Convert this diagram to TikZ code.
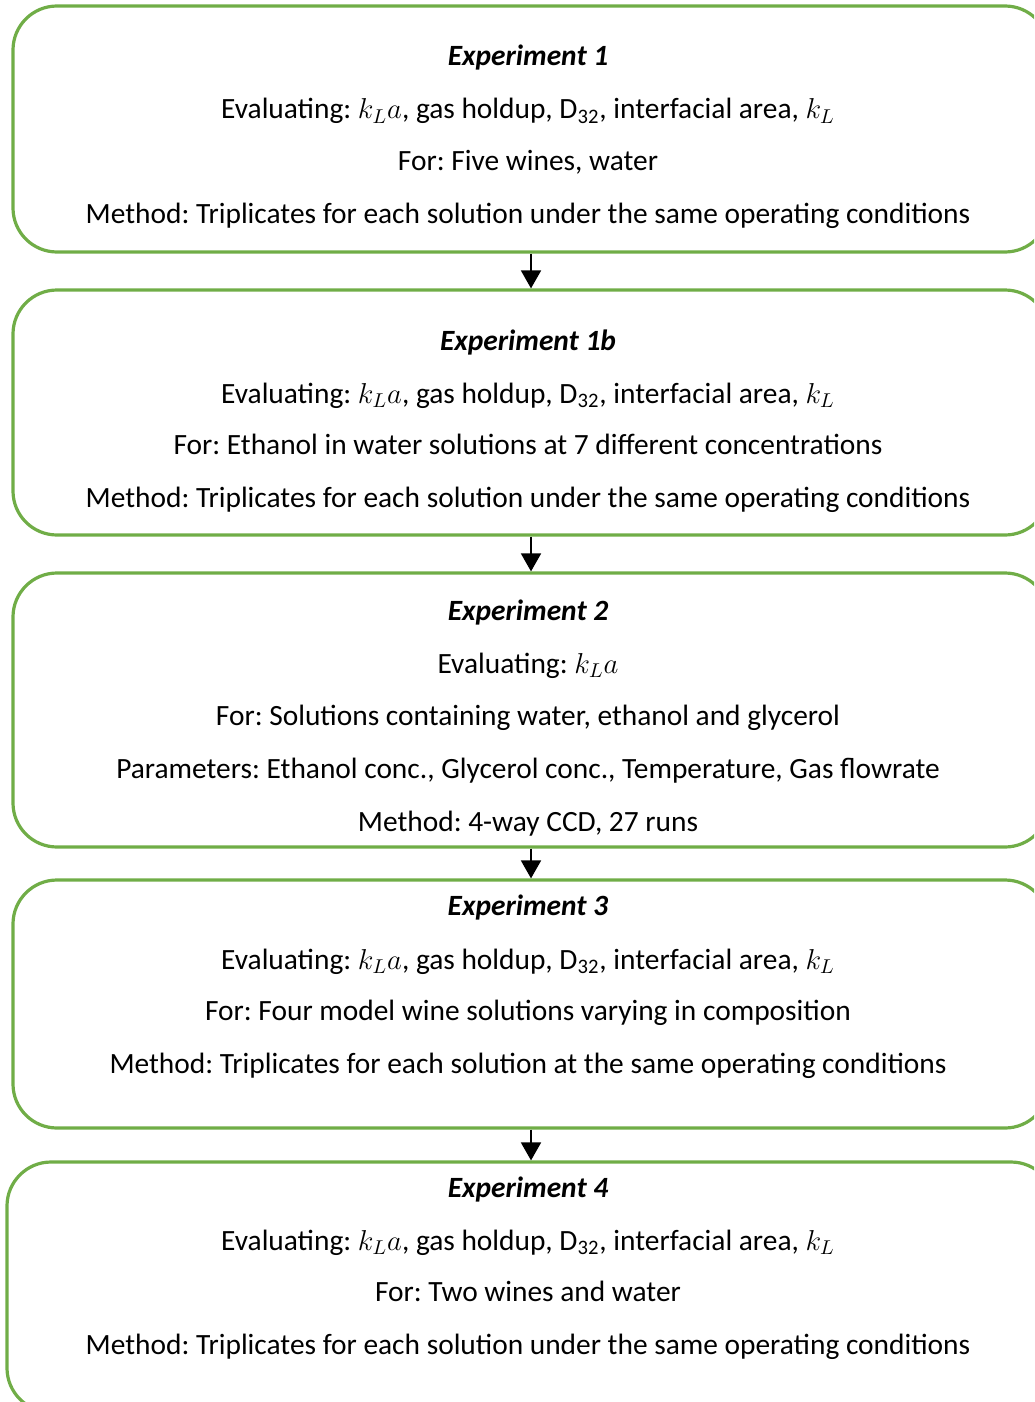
\documentclass[tikz,border=0pt]{standalone}
\usepackage{fontspec}
\setmainfont{Carlito}
\usetikzlibrary{arrows.meta}
\definecolor{expgreen}{RGB}{112,173,71}
\tikzset{
  expbox/.style={draw=expgreen, line width=1.6pt, rounded corners=22pt, inner sep=0pt},
  txt/.style={inner sep=0pt, anchor=base},
  flow/.style={-{Triangle[width=10pt,length=9pt]}, line width=0.9pt},
}
\newcommand\kla{$k_L a$}
\newcommand\evalall{Evaluating: $k_L a$, gas holdup, D\textsubscript{32}, interfacial area, $k_L$}

\begin{document}
\begin{tikzpicture}[x=0.5pt,y=-0.5pt]
    \fontsize{14.7}{17}\selectfont\frenchspacing
    \useasboundingbox (0,0) rectangle (1034,1402);
    \clip (0,0) rectangle (1034,1402);
    % boxes
    \node[expbox, minimum width=518pt, minimum height=123pt] (b1) at (531,129) {};
    \node[expbox, minimum width=518pt, minimum height=122.5pt] (b2) at (531,412.5) {};
    \node[expbox, minimum width=518pt, minimum height=137pt] (b3) at (531,710) {};
    \node[expbox, minimum width=518pt, minimum height=124pt] (b4) at (531,1004) {};
    \node[expbox, minimum width=524pt, minimum height=125pt] (b5) at (531,1287) {};
    % arrows
    \draw[flow] (b1.south) -- (b2.north);
    \draw[flow] (b2.south) -- (b3.north);
    \draw[flow] (b3.south) -- (b4.north);
    \draw[flow] (b4.south) -- (b5.north);
    % experiment 1
    \node[txt] (e1t) at (528,66) {\textbf{\textit{Experiment 1}}};
    \node[txt] (e1e) at (528,119) {\evalall};
    \node[txt] (e1f) at (528,170) {For: Five wines, water};
    \node[txt] (e1m) at (528,223) {Method: Triplicates for each solution under the same operating conditions};
    % experiment 1b
    \node[txt] (e2t) at (528,350) {\textbf{\textit{Experiment 1b}}};
    \node[txt] (e2e) at (528,403) {\evalall};
    \node[txt] (e2f) at (528,454) {For: Ethanol in water solutions at 7 different concentrations};
    \node[txt] (e2m) at (528,507) {Method: Triplicates for each solution under the same operating conditions};
    % experiment 2
    \node[txt] (e3t) at (528,620) {\textbf{\textit{Experiment 2}}};
    \node[txt] (e3e) at (528,673) {Evaluating: \kla};
    \node[txt] (e3f) at (528,725) {For: Solutions containing water, ethanol and glycerol};
    \node[txt] (e3p) at (528,778) {Parameters: Ethanol conc., Glycerol conc., Temperature, Gas flowrate};
    \node[txt] (e3m) at (528,831) {Method: 4-way CCD, 27 runs};
    % experiment 3
    \node[txt] (e4t) at (528,915) {\textbf{\textit{Experiment 3}}};
    \node[txt] (e4e) at (528,969) {\evalall};
    \node[txt] (e4f) at (528,1020) {For: Four model wine solutions varying in composition};
    \node[txt] (e4m) at (528,1073) {Method: Triplicates for each solution at the same operating conditions};
    % experiment 4
    \node[txt] (e5t) at (528,1197) {\textbf{\textit{Experiment 4}}};
    \node[txt] (e5e) at (528,1250) {\evalall};
    \node[txt] (e5f) at (528,1301) {For: Two wines and water};
    \node[txt] (e5m) at (528,1354) {Method: Triplicates for each solution under the same operating conditions};
\end{tikzpicture}
\end{document}
